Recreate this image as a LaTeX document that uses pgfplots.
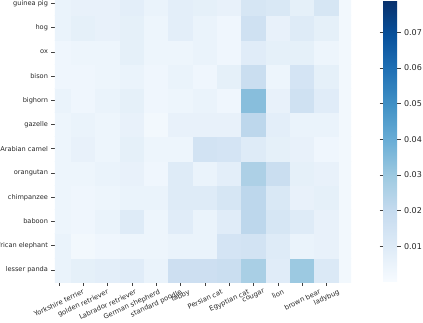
\documentclass[border=0pt]{standalone}
\usepackage{pgfplots}
\pgfplotsset{compat=1.18}
\usepackage{fontspec}
\setmainfont{DejaVu Sans}

% matplotlib "Blues"
\pgfplotsset{colormap={blues}{rgb255=(247,251,255) rgb255=(222,235,247)
  rgb255=(198,219,239) rgb255=(158,202,225) rgb255=(107,174,214)
  rgb255=(66,146,198) rgb255=(33,113,181) rgb255=(8,81,156) rgb255=(8,48,107)}}

\begin{document}
\begin{tikzpicture}
\useasboundingbox (-55pt,-40pt) rectangle (368pt,282pt);
\clip (-55pt,-40pt) rectangle (368pt,282pt);
\begin{axis}[
    at={(0,0)}, anchor=south west,
    width=296pt, height=282pt, scale only axis,
    xmin=-0.16, xmax=12, ymin=-0.5, ymax=11.14,
    colormap name=blues,
    point meta min=0, point meta max=0.079,
    axis line style={draw=none},
    tick align=outside, major tick length=3.5pt,
    tick style={black!75, line width=0.6pt},
    xtick pos=lower, ytick pos=left,
    xtick={0,...,11}, ytick={0,...,11},
    yticklabels={lesser panda, African elephant, baboon, chimpanzee, orangutan,
      Arabian camel, gazelle, bighorn, bison, ox, hog, guinea pig},
    xticklabels={\rotatebox{25}{Yorkshire terrier}, \rotatebox{25}{golden retriever},
      \rotatebox{25}{Labrador retriever}, \rotatebox{25}{German shepherd},
      \rotatebox{25}{standard poodle}, \rotatebox{25}{tabby},
      \rotatebox{25}{Persian cat}, \rotatebox{25}{Egyptian cat},
      \rotatebox{25}{cougar}, \rotatebox{25}{lion},
      \rotatebox{25}{brown bear}, \rotatebox{25}{ladybug}},
    x tick label style={anchor=north, font=\fontsize{6.8}{8}\selectfont, text=black!85},
    y tick label style={font=\fontsize{6.6}{8}\selectfont, text=black!85},
    colorbar,
    colorbar style={
        at={(parent axis.north east)}, anchor=north west, xshift=23.5pt,
        width=14pt,
        axis line style={draw=none},
        tick align=outside, major tick length=3.5pt,
        tick style={black!75, line width=0.6pt},
        ytick={0.01,0.02,0.03,0.04,0.05,0.06,0.07},
        scaled y ticks=false,
        yticklabel={\pgfmathprintnumber[assume math mode=true,fixed,precision=2,fixed zerofill]{\tick}},
        yticklabel style={font=\fontsize{8}{10}\selectfont, text=black!85},
    },
]
% rows from bottom (lesser panda, y=0) to top (guinea pig, y=11); 13 columns
\addplot[matrix plot*, mesh/cols=13, point meta=explicit] coordinates {
(0,0)[0.005] (1,0)[0.007] (2,0)[0.008] (3,0)[0.009] (4,0)[0.005] (5,0)[0.017] (6,0)[0.017] (7,0)[0.018] (8,0)[0.027] (9,0)[0.009] (10,0)[0.030] (11,0)[0.011] (12,0)[0.002]
(0,1)[0.005] (1,1)[0.002] (2,1)[0.003] (3,1)[0.004] (4,1)[0.004] (5,1)[0.005] (6,1)[0.005] (7,1)[0.014] (8,1)[0.015] (9,1)[0.010] (10,1)[0.005] (11,1)[0.006] (12,1)[0.002]
(0,2)[0.004] (1,2)[0.003] (2,2)[0.005] (3,2)[0.010] (4,2)[0.004] (5,2)[0.009] (6,2)[0.005] (7,2)[0.009] (8,2)[0.022] (9,2)[0.013] (10,2)[0.010] (11,2)[0.006] (12,2)[0.002]
(0,3)[0.004] (1,3)[0.003] (2,3)[0.004] (3,3)[0.005] (4,3)[0.005] (5,3)[0.010] (6,3)[0.010] (7,3)[0.013] (8,3)[0.022] (9,3)[0.012] (10,3)[0.006] (11,3)[0.007] (12,3)[0.002]
(0,4)[0.004] (1,4)[0.004] (2,4)[0.005] (3,4)[0.006] (4,4)[0.003] (5,4)[0.010] (6,4)[0.005] (7,4)[0.008] (8,4)[0.026] (9,4)[0.018] (10,4)[0.007] (11,4)[0.006] (12,4)[0.002]
(0,5)[0.004] (1,5)[0.006] (2,5)[0.004] (3,5)[0.007] (4,5)[0.004] (5,5)[0.004] (6,5)[0.015] (7,5)[0.014] (8,5)[0.010] (9,5)[0.007] (10,5)[0.006] (11,5)[0.003] (12,5)[0.002]
(0,6)[0.004] (1,6)[0.005] (2,6)[0.004] (3,6)[0.006] (4,6)[0.002] (5,6)[0.006] (6,6)[0.006] (7,6)[0.006] (8,6)[0.022] (9,6)[0.008] (10,6)[0.005] (11,6)[0.005] (12,6)[0.002]
(0,7)[0.005] (1,7)[0.003] (2,7)[0.005] (3,7)[0.007] (4,7)[0.003] (5,7)[0.004] (6,7)[0.005] (7,7)[0.003] (8,7)[0.034] (9,7)[0.006] (10,7)[0.016] (11,7)[0.009] (12,7)[0.002]
(0,8)[0.003] (1,8)[0.003] (2,8)[0.004] (3,8)[0.005] (4,8)[0.003] (5,8)[0.005] (6,8)[0.003] (7,8)[0.007] (8,8)[0.018] (9,8)[0.004] (10,8)[0.014] (11,8)[0.007] (12,8)[0.002]
(0,9)[0.003] (1,9)[0.004] (2,9)[0.004] (3,9)[0.007] (4,9)[0.004] (5,9)[0.004] (6,9)[0.005] (7,9)[0.003] (8,9)[0.009] (9,9)[0.007] (10,9)[0.007] (11,9)[0.004] (12,9)[0.002]
(0,10)[0.005] (1,10)[0.007] (2,10)[0.006] (3,10)[0.007] (4,10)[0.004] (5,10)[0.008] (6,10)[0.005] (7,10)[0.003] (8,10)[0.016] (9,10)[0.006] (10,10)[0.010] (11,10)[0.007] (12,10)[0.002]
(0,11)[0.005] (1,11)[0.006] (2,11)[0.006] (3,11)[0.008] (4,11)[0.005] (5,11)[0.008] (6,11)[0.007] (7,11)[0.006] (8,11)[0.013] (9,11)[0.012] (10,11)[0.007] (11,11)[0.013] (12,11)[0.002]
};
\end{axis}
\end{tikzpicture}
\end{document}
